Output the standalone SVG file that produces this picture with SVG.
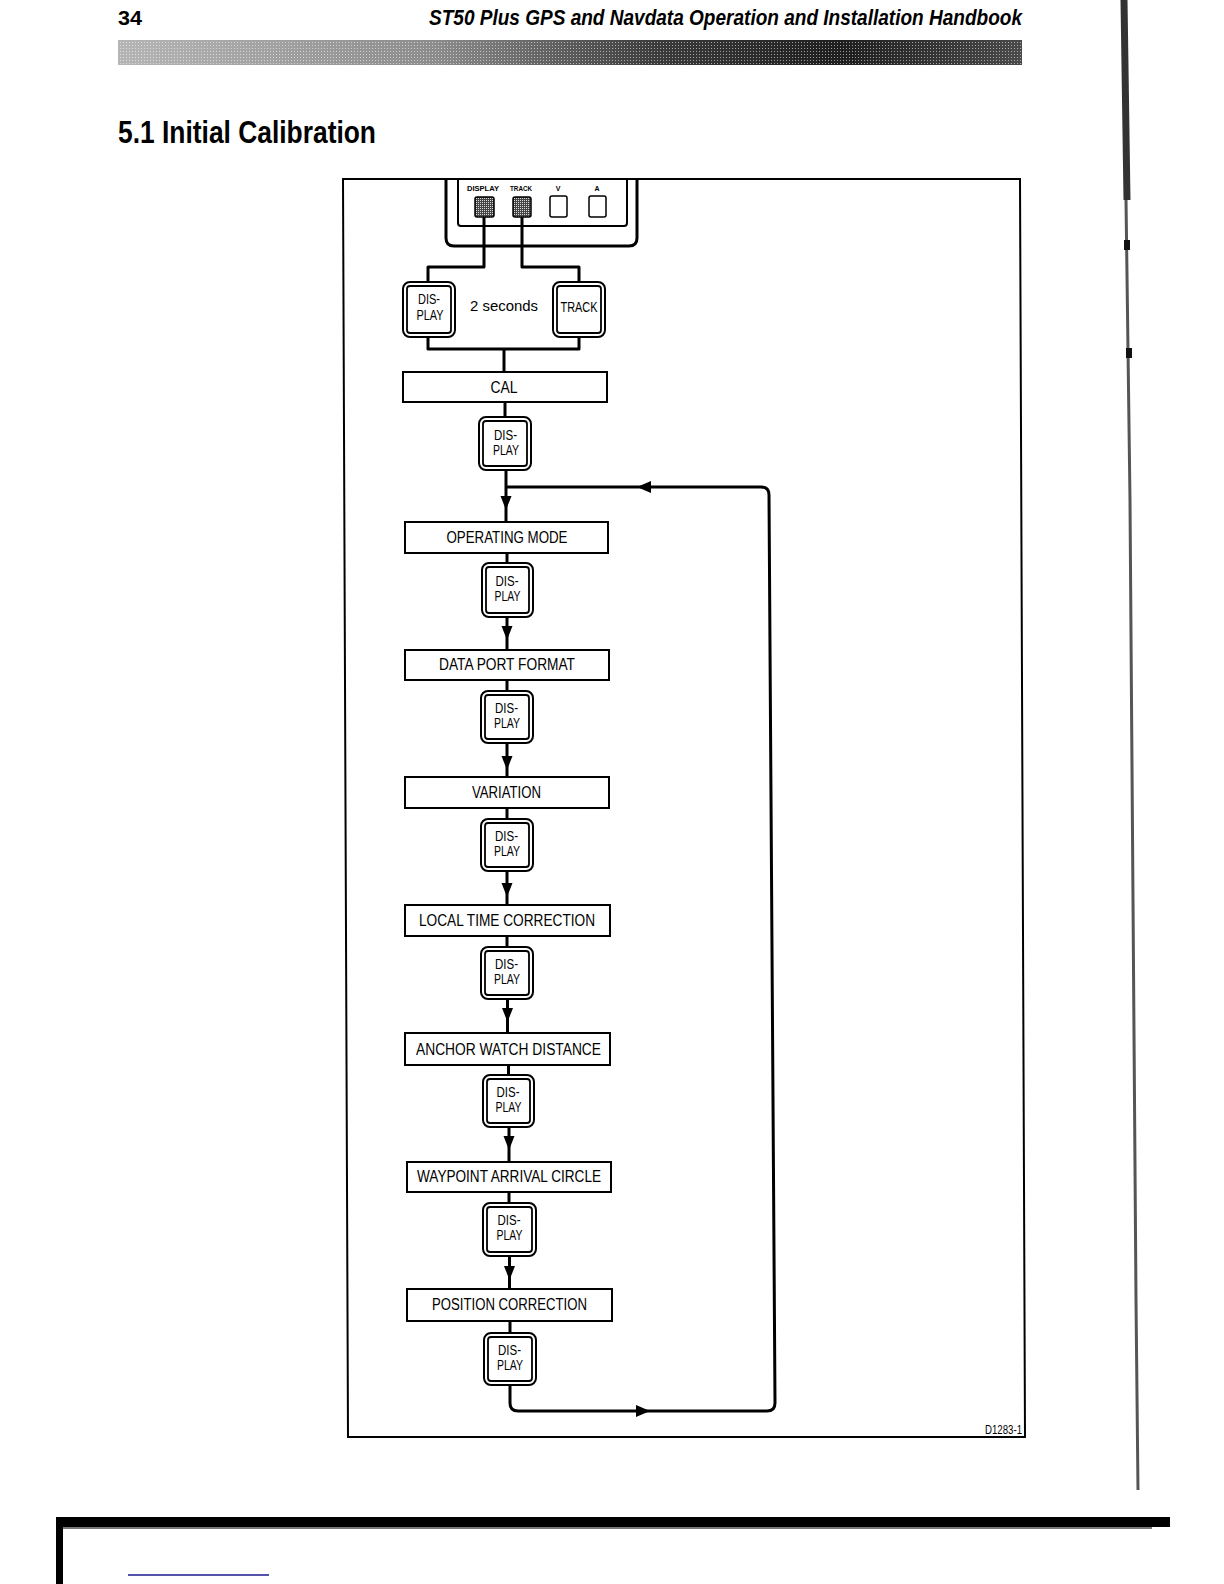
<svg xmlns="http://www.w3.org/2000/svg" width="1224" height="1584" viewBox="0 0 1224 1584">
<style>
.box{fill:#fff;stroke:#000;stroke-width:2}
.bo{fill:#fff;stroke:#000;stroke-width:2}
.bi{fill:none;stroke:#000;stroke-width:1.8}
.lbl{font-family:"Liberation Sans",Arial,sans-serif;font-size:16px;fill:#000;text-anchor:middle}
.btx{font-family:"Liberation Sans",Arial,sans-serif;font-size:14px;fill:#000;text-anchor:middle}
.tiny{font-family:"Liberation Sans",Arial,sans-serif;font-size:7px;font-weight:bold;fill:#000;text-anchor:middle}
.ln{fill:none;stroke:#000;stroke-width:3;stroke-linejoin:round}
.ah{fill:#000;stroke:none}
</style>
<defs>
<linearGradient id="barg" x1="0" y1="0" x2="1" y2="0">
<stop offset="0" stop-color="#b5b5b5"/>
<stop offset="0.35" stop-color="#8c8c8c"/>
<stop offset="0.6" stop-color="#3a3a3a"/>
<stop offset="0.8" stop-color="#1e1e1e"/>
<stop offset="1" stop-color="#4a4a4a"/>
</linearGradient>
<pattern id="dith" width="3" height="3" patternUnits="userSpaceOnUse">
<rect width="1" height="1" fill="#fff" opacity="0.55"/>
</pattern>
<pattern id="stip" width="2" height="2" patternUnits="userSpaceOnUse">
<rect width="2" height="2" fill="#444"/>
<rect width="1" height="1" fill="#ddd"/>
</pattern>
</defs>
<rect width="1224" height="1584" fill="#fff"/>

<!-- page header -->
<g id="header">
<text x="118" y="25" font-family="Liberation Sans,Arial,sans-serif" font-size="20" font-weight="bold" textLength="24" lengthAdjust="spacingAndGlyphs">34</text>
<text x="429" y="25" font-family="Liberation Sans,Arial,sans-serif" font-size="22" font-weight="bold" font-style="italic" textLength="593" lengthAdjust="spacingAndGlyphs">ST50 Plus GPS and Navdata Operation and Installation Handbook</text>
<rect x="118" y="40" width="904" height="25" fill="url(#barg)"/>
<rect x="118" y="40" width="904" height="25" fill="url(#dith)"/>
<text x="118" y="143" font-family="Liberation Sans,Arial,sans-serif" font-size="31" font-weight="bold" textLength="258" lengthAdjust="spacingAndGlyphs">5.1 Initial Calibration</text>
</g>

<!-- scan edges -->
<g id="scan">
<path d="M1124,0 L1127,200" stroke="#333" stroke-width="7" fill="none"/>
<path d="M1126,200 L1130,500 L1133,900 L1136,1300 L1138,1490" stroke="#555" stroke-width="3" fill="none"/>
<rect x="1124" y="240" width="6" height="10" fill="#111"/>
<rect x="1126" y="348" width="6" height="10" fill="#111"/>
<rect x="56" y="1517" width="1114" height="10" fill="#000"/>
<rect x="62" y="1527" width="1090" height="2" fill="#777"/>
<rect x="56" y="1517" width="7" height="67" fill="#000"/>
<line x1="128" y1="1575" x2="269" y2="1575" stroke="#1a1a8c" stroke-width="1.5"/>
</g>

<!-- frame -->
<polygon id="frame" points="343,179 1020,179 1025,1437 348,1437" fill="none" stroke="#000" stroke-width="2"/>
<text x="985" y="1434" font-family="Liberation Sans,Arial,sans-serif" font-size="12" textLength="37" lengthAdjust="spacingAndGlyphs">D1283-1</text>

<!-- instrument panel -->
<g id="panel">
<path d="M446,179 V238 Q446,246 454,246 H629 Q637,246 637,238 V179" fill="none" stroke="#000" stroke-width="3"/>
<path d="M458,179 V223 Q458,226 461,226 H624 Q627,226 627,223 V179" fill="none" stroke="#000" stroke-width="2"/>
<text class="tiny" x="483" y="191" textLength="32" lengthAdjust="spacingAndGlyphs">DISPLAY</text>
<text class="tiny" x="521" y="191" textLength="22" lengthAdjust="spacingAndGlyphs">TRACK</text>
<text class="tiny" x="558" y="191">V</text>
<text class="tiny" x="597" y="191">A</text>
<rect x="475" y="197" width="19" height="20" rx="2" fill="url(#stip)" stroke="#000" stroke-width="1.5"/>
<rect x="513" y="197" width="18" height="20" rx="2" fill="url(#stip)" stroke="#000" stroke-width="1.5"/>
<rect x="550" y="196" width="17" height="21" rx="2" fill="#fff" stroke="#000" stroke-width="1.5"/>
<rect x="589" y="196" width="17" height="21" rx="2" fill="#fff" stroke="#000" stroke-width="1.5"/>
</g>

<!-- connectors -->
<g id="connectors">
<path class="ln" d="M484,217 V267 H428 V282"/>
<path class="ln" d="M522,217 V267 H579 V282"/>
<path class="ln" d="M428,337 V349 H579 V337"/>
<path class="ln" d="M504,349 V372"/>
<path class="ln" d="M505,402 V417"/>
<path class="ln" d="M506,470 V522"/>
<path class="ln" d="M506,487 H761 Q769,487 769,495 L775,1403 Q775,1411 767,1411 H518 Q510,1411 510,1403 V1385"/>
<path class="ln" d="M507,553 V563"/>
<path class="ln" d="M507,617 V650"/>
<path class="ln" d="M507,680 V691"/>
<path class="ln" d="M507,743 V777"/>
<path class="ln" d="M507,808 V819"/>
<path class="ln" d="M507,871 V905"/>
<path class="ln" d="M507,936 V947"/>
<path class="ln" d="M507.5,999 V1033"/>
<path class="ln" d="M508.5,1065 V1075"/>
<path class="ln" d="M509,1127 V1162"/>
<path class="ln" d="M509,1192 V1203"/>
<path class="ln" d="M509.5,1256 V1289"/>
<path class="ln" d="M510,1321 V1333"/>
<polygon class="ah" points="500.5,496 511.5,496 506,510"/>
<polygon class="ah" points="501.5,626 512.5,626 507,640"/>
<polygon class="ah" points="501.5,756 512.5,756 507,770"/>
<polygon class="ah" points="501.5,883 512.5,883 507,897"/>
<polygon class="ah" points="502,1008 513,1008 507.5,1022"/>
<polygon class="ah" points="503.5,1136 514.5,1136 509,1150"/>
<polygon class="ah" points="504,1266 515,1266 509.5,1280"/>
<polygon class="ah" points="651,481 651,493 637,487"/>
<polygon class="ah" points="636,1405 636,1417 650,1411"/>
</g>

<!-- top buttons -->
<g id="btn-display-top">
<rect class="bo" x="403" y="282" width="52" height="55" rx="7"/>
<rect class="bi" x="407" y="286" width="44" height="47" rx="3"/>
<text class="btx" x="429" y="304" textLength="22" lengthAdjust="spacingAndGlyphs">DIS-</text>
<text class="btx" x="430" y="320" textLength="27" lengthAdjust="spacingAndGlyphs">PLAY</text>
</g>
<g id="btn-track-top">
<rect class="bo" x="553" y="282" width="52" height="55" rx="7"/>
<rect class="bi" x="557" y="286" width="44" height="47" rx="3"/>
<text class="btx" x="579" y="312" textLength="37" lengthAdjust="spacingAndGlyphs">TRACK</text>
</g>
<g id="two-seconds">
<text x="504" y="311" font-family="Liberation Sans,Arial,sans-serif" font-size="15" text-anchor="middle" textLength="68" lengthAdjust="spacingAndGlyphs">2 seconds</text>
</g>

<!-- boxes -->
<g id="cal">
<rect class="box" x="403" y="372" width="204" height="30"/>
<text class="lbl" x="504" y="393" textLength="27" lengthAdjust="spacingAndGlyphs">CAL</text>
</g>
<g id="btn1">
<rect class="bo" x="479" y="417" width="52" height="53" rx="7"/>
<rect class="bi" x="483" y="421" width="44" height="45" rx="3"/>
<text class="btx" x="505.5" y="440" textLength="23" lengthAdjust="spacingAndGlyphs">DIS-</text>
<text class="btx" x="506" y="455" textLength="26" lengthAdjust="spacingAndGlyphs">PLAY</text>
</g>
<g id="operating-mode">
<rect class="box" x="405" y="522" width="203" height="31"/>
<text class="lbl" x="507" y="543" textLength="121" lengthAdjust="spacingAndGlyphs">OPERATING MODE</text>
</g>
<g id="btn2">
<rect class="bo" x="482" y="563" width="51" height="54" rx="7"/>
<rect class="bi" x="486" y="567" width="43" height="46" rx="3"/>
<text class="btx" x="507" y="586" textLength="23" lengthAdjust="spacingAndGlyphs">DIS-</text>
<text class="btx" x="507.5" y="601" textLength="26" lengthAdjust="spacingAndGlyphs">PLAY</text>
</g>
<g id="data-port-format">
<rect class="box" x="405" y="650" width="204" height="30"/>
<text class="lbl" x="507" y="670" textLength="136" lengthAdjust="spacingAndGlyphs">DATA PORT FORMAT</text>
</g>
<g id="btn3">
<rect class="bo" x="481" y="691" width="52" height="52" rx="7"/>
<rect class="bi" x="485" y="695" width="44" height="44" rx="3"/>
<text class="btx" x="506.5" y="713" textLength="23" lengthAdjust="spacingAndGlyphs">DIS-</text>
<text class="btx" x="507" y="728" textLength="26" lengthAdjust="spacingAndGlyphs">PLAY</text>
</g>
<g id="variation">
<rect class="box" x="405" y="777" width="204" height="31"/>
<text class="lbl" x="506.5" y="798" textLength="69" lengthAdjust="spacingAndGlyphs">VARIATION</text>
</g>
<g id="btn4">
<rect class="bo" x="481" y="819" width="52" height="52" rx="7"/>
<rect class="bi" x="485" y="823" width="44" height="44" rx="3"/>
<text class="btx" x="506.5" y="841" textLength="23" lengthAdjust="spacingAndGlyphs">DIS-</text>
<text class="btx" x="507" y="856" textLength="26" lengthAdjust="spacingAndGlyphs">PLAY</text>
</g>
<g id="local-time-correction">
<rect class="box" x="405" y="905" width="205" height="31"/>
<text class="lbl" x="507" y="926" textLength="176" lengthAdjust="spacingAndGlyphs">LOCAL TIME CORRECTION</text>
</g>
<g id="btn5">
<rect class="bo" x="481" y="947" width="52" height="52" rx="7"/>
<rect class="bi" x="485" y="951" width="44" height="44" rx="3"/>
<text class="btx" x="506.5" y="969" textLength="23" lengthAdjust="spacingAndGlyphs">DIS-</text>
<text class="btx" x="507" y="984" textLength="26" lengthAdjust="spacingAndGlyphs">PLAY</text>
</g>
<g id="anchor-watch-distance">
<rect class="box" x="405" y="1033" width="205" height="32"/>
<text class="lbl" x="508.5" y="1055" textLength="185" lengthAdjust="spacingAndGlyphs">ANCHOR WATCH DISTANCE</text>
</g>
<g id="btn6">
<rect class="bo" x="483" y="1075" width="51" height="52" rx="7"/>
<rect class="bi" x="487" y="1079" width="43" height="44" rx="3"/>
<text class="btx" x="508" y="1097" textLength="23" lengthAdjust="spacingAndGlyphs">DIS-</text>
<text class="btx" x="508.5" y="1112" textLength="26" lengthAdjust="spacingAndGlyphs">PLAY</text>
</g>
<g id="waypoint-arrival-circle">
<rect class="box" x="407" y="1162" width="204" height="30"/>
<text class="lbl" x="509" y="1182" textLength="184" lengthAdjust="spacingAndGlyphs">WAYPOINT ARRIVAL CIRCLE</text>
</g>
<g id="btn7">
<rect class="bo" x="483" y="1203" width="53" height="53" rx="7"/>
<rect class="bi" x="487" y="1207" width="45" height="45" rx="3"/>
<text class="btx" x="509" y="1225" textLength="23" lengthAdjust="spacingAndGlyphs">DIS-</text>
<text class="btx" x="509.5" y="1240" textLength="26" lengthAdjust="spacingAndGlyphs">PLAY</text>
</g>
<g id="position-correction">
<rect class="box" x="407" y="1289" width="205" height="32"/>
<text class="lbl" x="509.5" y="1310" textLength="155" lengthAdjust="spacingAndGlyphs">POSITION CORRECTION</text>
</g>
<g id="btn8">
<rect class="bo" x="484" y="1333" width="52" height="52" rx="7"/>
<rect class="bi" x="488" y="1337" width="44" height="44" rx="3"/>
<text class="btx" x="509.5" y="1355" textLength="23" lengthAdjust="spacingAndGlyphs">DIS-</text>
<text class="btx" x="510" y="1370" textLength="26" lengthAdjust="spacingAndGlyphs">PLAY</text>
</g>
</svg>
